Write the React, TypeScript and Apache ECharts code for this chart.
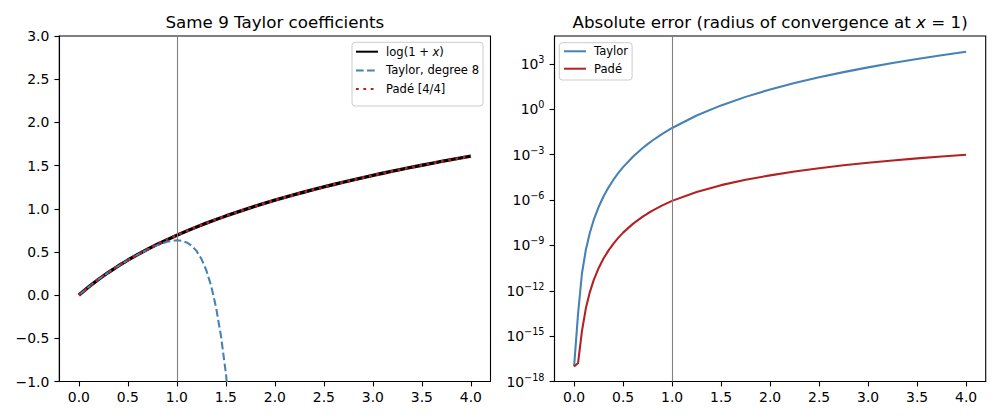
import React, { useEffect, useRef } from "react";
import * as echarts from "echarts";

// ---------- data ----------
const curveX = [0, 0.1, 0.2, 0.3, 0.4, 0.5, 0.6, 0.7, 0.8, 0.9, 1.0, 1.1, 1.2, 1.3, 1.4, 1.5, 1.6, 1.7, 1.8, 1.9, 2.0, 2.1, 2.2, 2.3, 2.4, 2.5, 2.6, 2.7, 2.8, 2.9, 3.0, 3.1, 3.2, 3.3, 3.4, 3.5, 3.6, 3.7, 3.8, 3.9, 4.0];
const logValues = [0, 0.0953, 0.1823, 0.2624, 0.3365, 0.4055, 0.47, 0.5306, 0.5878, 0.6419, 0.6931, 0.7419, 0.7885, 0.8329, 0.8755, 0.9163, 0.9555, 0.9933, 1.0296, 1.0647, 1.0986, 1.1314, 1.1632, 1.1939, 1.2238, 1.2528, 1.2809, 1.3083, 1.335, 1.361, 1.3863, 1.411, 1.4351, 1.4586, 1.4816, 1.5041, 1.5261, 1.5476, 1.5686, 1.5892, 1.6094];
const padeValues = [0, 0.0953, 0.1823, 0.2624, 0.3365, 0.4055, 0.47, 0.5306, 0.5878, 0.6419, 0.6931, 0.7419, 0.7885, 0.8329, 0.8755, 0.9163, 0.9555, 0.9933, 1.0296, 1.0647, 1.0986, 1.1314, 1.1632, 1.1939, 1.2238, 1.2527, 1.2808, 1.3082, 1.3349, 1.3608, 1.386, 1.4107, 1.4347, 1.4582, 1.4811, 1.5035, 1.5254, 1.5468, 1.5678, 1.5883, 1.6084];
const taylorX = [0, 0.1, 0.2, 0.3, 0.4, 0.5, 0.6, 0.7, 0.8, 0.9, 1.0, 1.05, 1.1, 1.15, 1.2, 1.25, 1.3, 1.35, 1.4, 1.45, 1.5, 1.55];
const taylorValues = [0, 0.0953, 0.1823, 0.2624, 0.3365, 0.4053, 0.4693, 0.5279, 0.5791, 0.618, 0.6345, 0.629, 0.6099, 0.5728, 0.512, 0.4201, 0.2882, 0.1048, -0.1438, -0.4746, -0.9081, -1.4687];

const errX = [0, 0.04, 0.08, 0.12, 0.16, 0.2, 0.25, 0.3, 0.35, 0.4, 0.45, 0.5, 0.6, 0.7, 0.75, 0.8, 0.9, 1.0, 1.25, 1.5, 1.75, 2.0, 2.25, 2.5, 2.75, 3.0, 3.25, 3.5, 3.75, 4.0];
const taylorErr = [1e-17, 2.81e-14, 1.39e-11, 5.17e-10, 6.68e-9, 4.82e-8, 3.45e-7, 1.73e-6, 6.65e-6, 2.14e-5, 5.99e-5, 1.5e-4, 7.28e-4, 2.76e-3, 4.99e-3, 8.69e-3, 2.38e-2, 5.86e-2, 0.391, 1.82, 6.67, 20.4, 54.6, 131, 289, 595, 1153, 2124, 3750, 6378];
const padeErr = [1e-17, 1.6e-17, 2.14e-15, 6.9e-14, 7.9e-13, 5.05e-12, 3.12e-11, 1.35e-10, 4.54e-10, 1.28e-9, 3.16e-9, 7.0e-9, 2.66e-8, 7.98e-8, 1.29e-7, 2.02e-7, 4.44e-7, 8.8e-7, 3.44e-6, 9.7e-6, 2.22e-5, 4.3e-5, 7.74e-5, 1.28e-4, 1.99e-4, 2.94e-4, 4.17e-4, 5.71e-4, 7.62e-4, 1.0e-3];

const convergenceRadius = 1;

const xTicks = [0, 0.5, 1, 1.5, 2, 2.5, 3, 3.5, 4];
const leftYTicks = [-1, -0.5, 0, 0.5, 1, 1.5, 2, 2.5, 3];
const rightYTicks = [-18, -15, -12, -9, -6, -3, 0, 3];

const leftTitle = "Same 9 Taylor coefficients";
const rightTitle = "Absolute error (radius of convergence at {i|x} = 1)";
const leftNames = ["log(1+x)", "Taylor, degree 8", "Padé [4/4]"];
const rightNames = ["Taylor", "Padé"];

// ---------- styling ----------
const FONT = "DejaVu Sans";
const TICK_FS = 13.9;
const LEG_FS = 11.57;
const TITLE_FS = 16.7;
const STEEL = "#4682b4";
const FIRE = "#b22222";

const fmtDec = (v: number) => v.toFixed(1).replace("-", "\u2212");
const fmtPow = (v: number) => `{b|10}{s|${v < 0 ? "\u2212" + Math.abs(v) : String(v)}}`;

function makeXAxis(gridIndex: number) {
  return {
    gridIndex,
    type: "value",
    min: -0.2,
    max: 4.2,
    splitLine: { show: false },
    axisLine: { show: true, onZero: false, lineStyle: { color: "#000", width: 1.1 } },
    axisTick: { show: true, length: 4.9, lineStyle: { color: "#000", width: 1.1 }, customValues: xTicks },
    axisLabel: { customValues: xTicks, formatter: fmtDec, fontFamily: FONT, fontSize: TICK_FS, color: "#000", margin: 8 },
  };
}

function buildOption() {
  const pairs = (xs: number[], ys: number[]) => xs.map((x, i) => [x, ys[i]]);
  const logPairs = (xs: number[], ys: number[]) => xs.map((x, i) => [x, Math.log10(ys[i])]);
  const vline = {
    silent: true,
    symbol: "none",
    label: { show: false },
    lineStyle: { color: "#808080", width: 1.1, type: "solid" },
    data: [{ xAxis: convergenceRadius }],
    animation: false,
  };
  const legendBase = {
    orient: "vertical",
    itemWidth: 22,
    itemHeight: 12,
    backgroundColor: "rgba(255,255,255,0.8)",
    borderColor: "#cccccc",
    borderWidth: 1,
    borderRadius: 3,
    selectedMode: false,
    itemStyle: { opacity: 0 },
    textStyle: {
      fontFamily: FONT,
      fontSize: LEG_FS,
      color: "#000",
      padding: [0, 0, 0, 3],
      rich: { i: { fontFamily: FONT, fontSize: LEG_FS, fontStyle: "italic", color: "#000" } },
    },
  };
  return {
    animation: false,
    backgroundColor: "#fff",
    textStyle: { fontFamily: FONT },
    title: [
      {
        text: leftTitle,
        left: 274.9,
        top: 13.5,
        textAlign: "center",
        padding: 0,
        textStyle: { fontFamily: FONT, fontSize: TITLE_FS, fontWeight: "normal", color: "#000" },
      },
      {
        text: rightTitle,
        left: 770.1,
        top: 13.5,
        textAlign: "center",
        padding: 0,
        textStyle: {
          fontFamily: FONT,
          fontSize: TITLE_FS,
          fontWeight: "normal",
          color: "#000",
          rich: { i: { fontFamily: FONT, fontSize: TITLE_FS, fontStyle: "italic", color: "#000" } },
        },
      },
    ],
    legend: [
      {
        ...legendBase,
        data: leftNames,
        left: 352,
        top: 42.3,
        padding: [3.4, 4, 10.9, 3],
        itemGap: 6.7,
        formatter: (name: string) => (name === leftNames[0] ? "log(1 + {i|x})" : name),
      },
      {
        ...legendBase,
        data: rightNames,
        left: 559.3,
        top: 42.7,
        padding: [2.6, 4, 5.3, 3.7],
        itemGap: 5.4,
      },
    ],
    grid: [
      { left: 59.3, top: 36, width: 431.2, height: 345.5, show: true, borderColor: "#000", borderWidth: 1.1, backgroundColor: "transparent", containLabel: false },
      { left: 554.5, top: 36, width: 431.2, height: 345.5, show: true, borderColor: "#000", borderWidth: 1.1, backgroundColor: "transparent", containLabel: false },
    ],
    xAxis: [makeXAxis(0), makeXAxis(1)],
    yAxis: [
      {
        gridIndex: 0,
        type: "value",
        min: -1,
        max: 3,
        splitLine: { show: false },
        axisLine: { show: true, onZero: false, lineStyle: { color: "#000", width: 1.1 } },
        axisTick: { show: true, length: 4.9, lineStyle: { color: "#000", width: 1.1 }, customValues: leftYTicks },
        axisLabel: { customValues: leftYTicks, formatter: fmtDec, fontFamily: FONT, fontSize: TICK_FS, color: "#000", margin: 10 },
      },
      {
        gridIndex: 1,
        type: "value",
        min: -18,
        max: 4.85,
        splitLine: { show: false },
        axisLine: { show: true, onZero: false, lineStyle: { color: "#000", width: 1.1 } },
        axisTick: { show: true, length: 4.9, lineStyle: { color: "#000", width: 1.1 }, customValues: rightYTicks },
        axisLabel: {
          customValues: rightYTicks,
          formatter: fmtPow,
          color: "#000",
          margin: 10,
          rich: {
            b: { fontFamily: FONT, fontSize: TICK_FS, color: "#000", lineHeight: 14 },
            s: { fontFamily: FONT, fontSize: 9.7, color: "#000", lineHeight: 12, padding: [0, 0, 9, 0] },
          },
        },
      },
    ],
    series: [
      {
        name: "vline-left",
        type: "line",
        xAxisIndex: 0,
        yAxisIndex: 0,
        data: [],
        z: 1,
        markLine: vline,
      },
      {
        name: leftNames[0],
        type: "line",
        xAxisIndex: 0,
        yAxisIndex: 0,
        data: pairs(curveX, logValues),
        symbol: "none",
        showSymbol: false,
        z: 2,
        lineStyle: { color: "#000", width: 3.4, type: "solid" },
        itemStyle: { color: "#000" },
      },
      {
        name: leftNames[1],
        type: "line",
        xAxisIndex: 0,
        yAxisIndex: 0,
        data: pairs(taylorX, taylorValues),
        symbol: "none",
        showSymbol: false,
        z: 3,
        lineStyle: { color: STEEL, width: 2.08, type: [7.7, 3.33] },
        itemStyle: { color: STEEL },
      },
      {
        name: leftNames[2],
        type: "line",
        xAxisIndex: 0,
        yAxisIndex: 0,
        data: pairs(curveX, padeValues),
        symbol: "none",
        showSymbol: false,
        z: 4,
        lineStyle: { color: FIRE, width: 2.78, type: [2.78, 4.58] },
        itemStyle: { color: FIRE },
      },
      {
        name: "vline-right",
        type: "line",
        xAxisIndex: 1,
        yAxisIndex: 1,
        data: [],
        z: 1,
        markLine: vline,
      },
      {
        name: rightNames[0],
        type: "line",
        xAxisIndex: 1,
        yAxisIndex: 1,
        data: logPairs(errX, taylorErr),
        symbol: "none",
        showSymbol: false,
        z: 2,
        lineStyle: { color: STEEL, width: 2.08 },
        itemStyle: { color: STEEL },
      },
      {
        name: rightNames[1],
        type: "line",
        xAxisIndex: 1,
        yAxisIndex: 1,
        data: logPairs(errX, padeErr),
        symbol: "none",
        showSymbol: false,
        z: 3,
        lineStyle: { color: FIRE, width: 2.08 },
        itemStyle: { color: FIRE },
      },
    ],
  };
}

export default function App() {
  const ref = useRef<HTMLDivElement>(null);
  useEffect(() => {
    if (!ref.current) return;
    const chart = echarts.init(ref.current, null, { renderer: "svg" });
    chart.setOption(buildOption() as any);
    return () => chart.dispose();
  }, []);
  return (
    <div
      ref={ref}
      style={{ position: "fixed", left: 0, top: 0, width: 1000, height: 420, background: "#fff" }}
    />
  );
}
